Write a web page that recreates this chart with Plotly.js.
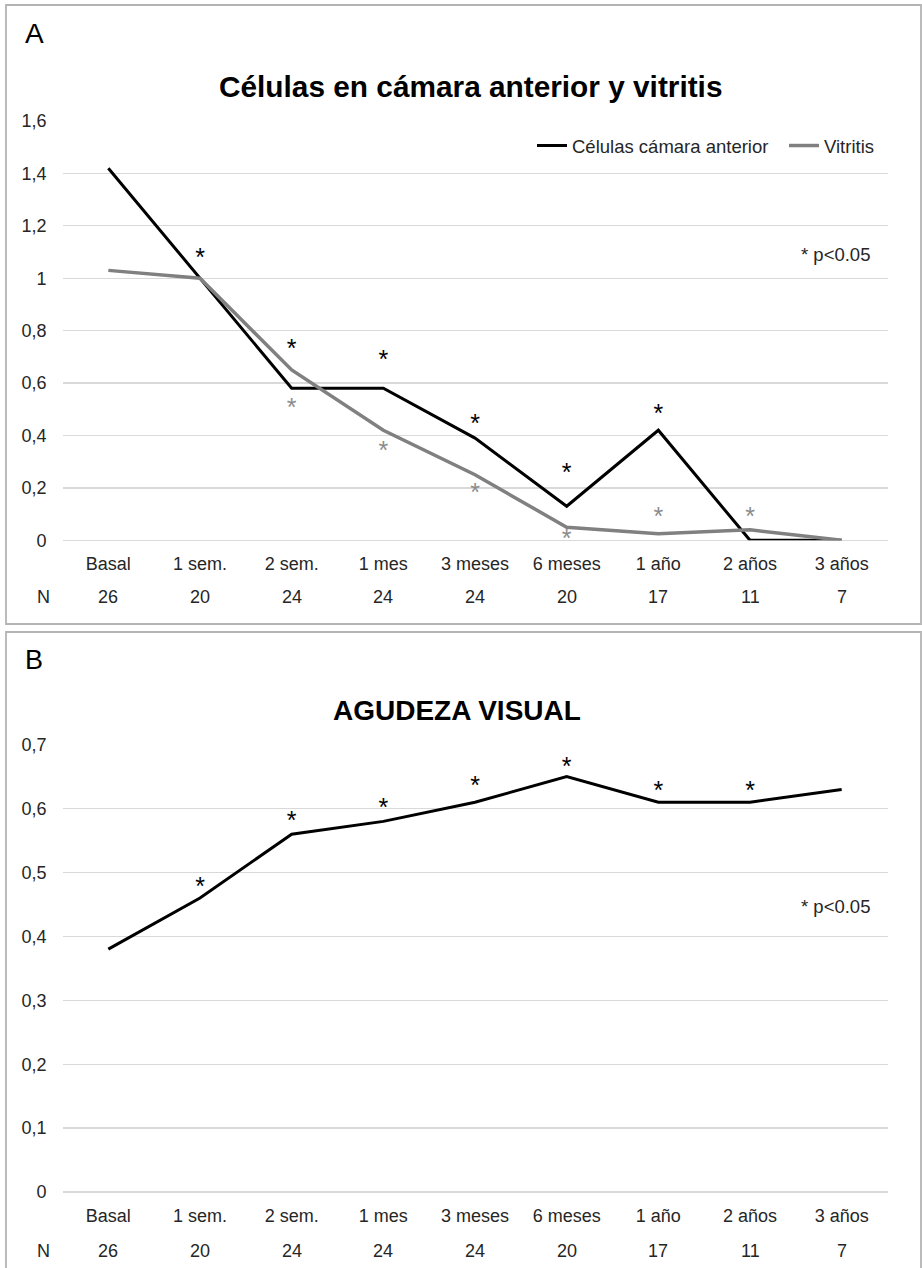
<!DOCTYPE html>
<html>
<head>
<meta charset="utf-8">
<script src="https://cdn.plot.ly/plotly-3.0.1.min.js"></script>
<style>html,body{margin:0;padding:0;background:#fff;}#chart{width:922px;height:1268px;}</style>
</head>
<body>
<div id="chart"></div>
<script>
// ---- data ----
const categories = ["Basal", "1 sem.", "2 sem.", "1 mes", "3 meses", "6 meses", "1 año", "2 años", "3 años"];
const nValues = ["26", "20", "24", "24", "24", "20", "17", "11", "7"];

const celulasCamara = [1.42, 1.00, 0.58, 0.58, 0.39, 0.13, 0.42, 0.00, 0.00];
const vitritis      = [1.03, 1.00, 0.65, 0.42, 0.25, 0.05, 0.025, 0.04, 0.00];
const starsCamara   = [null, 1.07, 0.725, 0.683, 0.436, 0.25, 0.475, null, null];
const starsVitritis = [null, null, 0.50, 0.333, 0.175, 0.0, 0.081, 0.081, null];

const agudezaVisual = [0.38, 0.46, 0.56, 0.58, 0.61, 0.65, 0.61, 0.61, 0.63];
const starsAgudeza  = [null, 0.475, 0.578, 0.598, 0.632, 0.663, 0.625, 0.625, null];

const titleA = "Células en cámara anterior y vitritis";
const titleB = "AGUDEZA VISUAL";
const pNote = "* p<0.05";

// ---- layout helpers ----
const W = 922, H = 1268;
const px = v => v / W;
const py = v => (H - v) / H;
const FONT = "Liberation Sans, Arial, sans-serif";
const BLACK = "#000000", GRAY = "#808080", STARGRAY = "#8c8c8c";
const idx = categories.map((c, i) => i);
const STAR_SIZE = 25;

const traces = [
  {x: idx, y: celulasCamara, xaxis: "x", yaxis: "y", type: "scatter", mode: "lines",
   name: "Células cámara anterior", line: {color: BLACK, width: 3}, legend: "legend"},
  {x: idx, y: vitritis, xaxis: "x", yaxis: "y", type: "scatter", mode: "lines",
   name: "Vitritis", line: {color: GRAY, width: 3.5}, legend: "legend2"},
  {x: idx, y: starsCamara, xaxis: "x", yaxis: "y", type: "scatter", mode: "text",
   text: starsCamara.map(v => v === null ? "" : "*"), textposition: "middle center",
   textfont: {family: FONT, size: STAR_SIZE, color: BLACK}, showlegend: false, cliponaxis: false, hoverinfo: "skip"},
  {x: idx, y: starsVitritis, xaxis: "x", yaxis: "y", type: "scatter", mode: "text",
   text: starsVitritis.map(v => v === null ? "" : "*"), textposition: "middle center",
   textfont: {family: FONT, size: STAR_SIZE, color: STARGRAY}, showlegend: false, cliponaxis: false, hoverinfo: "skip"},
  {x: idx, y: agudezaVisual, xaxis: "x2", yaxis: "y2", type: "scatter", mode: "lines",
   name: "Agudeza visual", line: {color: BLACK, width: 3}, showlegend: false},
  {x: idx, y: starsAgudeza, xaxis: "x2", yaxis: "y2", type: "scatter", mode: "text",
   text: starsAgudeza.map(v => v === null ? "" : "*"), textposition: "middle center",
   textfont: {family: FONT, size: STAR_SIZE, color: BLACK}, showlegend: false, cliponaxis: false, hoverinfo: "skip"}
];

const tickFont = {family: FONT, size: 18, color: "#262626"};
const xCommon = {
  tickmode: "array", tickvals: idx, ticktext: categories, range: [-0.5, 8.5],
  showgrid: false, zeroline: false, showline: false, ticks: "", tickfont: tickFont,
  ticklabelstandoff: 11, fixedrange: true, automargin: false
};
const yCommon = {
  showgrid: true, gridcolor: "#d9d9d9", gridwidth: 1.3, zeroline: true, zerolinecolor: "#d9d9d9",
  zerolinewidth: 1.3, showline: false,
  ticks: "", tickfont: tickFont, ticklabelstandoff: 15, fixedrange: true, automargin: false
};

const plotA = {top: 121, bottom: 540.3};
const plotB = {top: 744.7, bottom: 1192};

const annotations = [
  {text: "A", xref: "paper", yref: "paper", x: px(34), y: py(33.5), showarrow: false,
   font: {family: FONT, size: 28, color: BLACK}, xanchor: "center", yanchor: "middle"},
  {text: "<b>" + titleA + "</b>", xref: "paper", yref: "paper", x: px(470), y: py(86), showarrow: false,
   font: {family: FONT, size: 29.8, color: BLACK}, xanchor: "center", yanchor: "middle"},
  {text: pNote, xref: "paper", yref: "paper", x: px(872), y: py(255), showarrow: false,
   font: {family: FONT, size: 18.5, color: "#262626"}, xanchor: "right", yanchor: "middle"},
  {text: "N", xref: "paper", yref: "paper", x: px(43), y: py(597), showarrow: false,
   font: tickFont, xanchor: "center", yanchor: "middle"},
  {text: "B", xref: "paper", yref: "paper", x: px(34), y: py(660), showarrow: false,
   font: {family: FONT, size: 27, color: BLACK}, xanchor: "center", yanchor: "middle"},
  {text: "<b>" + titleB + "</b>", xref: "paper", yref: "paper", x: px(456.5), y: py(710), showarrow: false,
   font: {family: FONT, size: 28, color: BLACK}, xanchor: "center", yanchor: "middle"},
  {text: pNote, xref: "paper", yref: "paper", x: px(872), y: py(906), showarrow: false,
   font: {family: FONT, size: 18.5, color: "#262626"}, xanchor: "right", yanchor: "middle"},
  {text: "N", xref: "paper", yref: "paper", x: px(43), y: py(1251), showarrow: false,
   font: tickFont, xanchor: "center", yanchor: "middle"}
];
nValues.forEach((n, i) => {
  annotations.push({text: n, xref: "x", yref: "paper", x: i, y: py(597), showarrow: false,
    font: tickFont, xanchor: "center", yanchor: "middle"});
  annotations.push({text: n, xref: "x2", yref: "paper", x: i, y: py(1251), showarrow: false,
    font: tickFont, xanchor: "center", yanchor: "middle"});
});

const legendCommon = {orientation: "h", xanchor: "left", y: py(146), yanchor: "middle",
  font: {family: FONT, size: 18.5, color: "#262626"}, itemwidth: 30,
  bgcolor: "rgba(0,0,0,0)", borderwidth: 0};

const layout = {
  width: W, height: H,
  margin: {l: 0, r: 0, t: 0, b: 0, autoexpand: false},
  paper_bgcolor: "#ffffff", plot_bgcolor: "rgba(0,0,0,0)",
  separators: ",.",
  showlegend: true,
  legend: Object.assign({}, legendCommon, {x: px(532)}),
  legend2: Object.assign({}, legendCommon, {x: px(784)}),
  xaxis: Object.assign({}, xCommon, {domain: [px(62.5), px(887.5)], anchor: "y"}),
  yaxis: Object.assign({}, yCommon, {domain: [py(plotA.bottom), py(plotA.top)], range: [0, 1.6], dtick: 0.2, anchor: "x"}),
  xaxis2: Object.assign({}, xCommon, {domain: [px(62.5), px(887.5)], anchor: "y2"}),
  yaxis2: Object.assign({}, yCommon, {domain: [py(plotB.bottom), py(plotB.top)], range: [0, 0.7], dtick: 0.1, anchor: "x2"}),
  annotations: annotations,
  shapes: [
    {type: "rect", xref: "paper", yref: "paper", x0: px(6), x1: px(921), y0: py(624), y1: py(5),
     line: {color: "#b4b4b4", width: 1.8}, fillcolor: "rgba(0,0,0,0)"},
    {type: "rect", xref: "paper", yref: "paper", x0: px(6), x1: px(921), y0: py(1290), y1: py(632),
     line: {color: "#b4b4b4", width: 1.8}, fillcolor: "rgba(0,0,0,0)"}
  ],
  font: {family: FONT}
};

Plotly.newPlot("chart", traces, layout, {staticPlot: true, displayModeBar: false});
</script>
</body>
</html>
